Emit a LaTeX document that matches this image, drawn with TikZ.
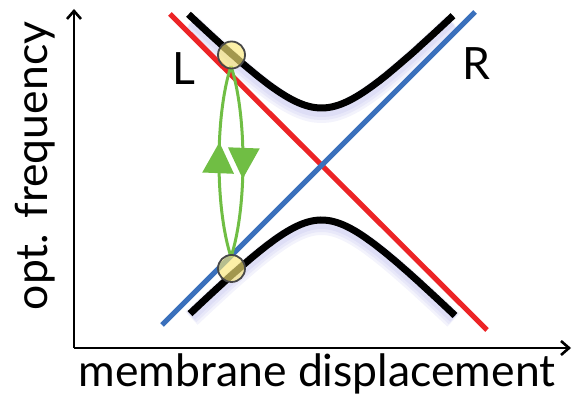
\documentclass[tikz,border=0pt]{standalone}
\usepackage{fontspec}
\setmainfont{Lato}
\usepackage{xcolor}
\usetikzlibrary{arrows.meta, decorations.markings}

\definecolor{leftRed}{RGB}{236,36,38}
\definecolor{rightBlue}{RGB}{58,112,188}
\definecolor{hopGreen}{RGB}{112,190,68}
\definecolor{dotYellow}{RGB}{250,232,120}
\definecolor{dotRim}{RGB}{72,72,72}
\definecolor{glowBlue}{RGB}{120,120,220}

\begin{document}
\begin{tikzpicture}[x=1pt, y=1pt,
        % Define the styles used below
        axis/.style={line width=2.6pt, -{Straight Barb[length=8pt, width=14pt]}},
        axtext/.style={font=\fontsize{44.5}{44.5}\selectfont, inner sep=0pt},
        mode/.style={line width=5.2pt},
        branch/.style={line width=7pt, black},
        glow/.style={color=glowBlue, opacity=0.09},
        dot/.style={circle, draw=dotRim, line width=1.8pt, fill=dotYellow, fill opacity=0.65,
            minimum size=27pt, inner sep=0pt},
        hop/.style={line width=3pt, hopGreen, postaction={decorate},
            decoration={markings, mark=at position #1 with
                {\arrow{Triangle[length=31pt, width=31pt]}}}}]

        \useasboundingbox (0,0) rectangle (573,398);

        % 1. Coordinates: axes and the two crossing modes
        \coordinate (O) at (74,50);
        \coordinate (Ytop) at (74,389);
        \coordinate (Xend) at (571,50);
        \coordinate (Ltop) at (170,384);   % left mode (red)
        \coordinate (Lbot) at (487,68);
        \coordinate (Rbot) at (162,73);    % right mode (blue)
        \coordinate (Rtop) at (475,386);

        % 2. Soft shadow below the two black branches
        \foreach \w/\s in {18/6, 14/5, 10/4} {
            \draw[glow, line width=\w pt, shift={(0,-\s)}]
                plot[domain=-130:130, samples=60, smooth]
                ({321.5+\x}, {242.5+veclen(47.5,\x)});
            \draw[glow, line width=\w pt, shift={(0,-\s)}]
                plot[domain=-130:132, samples=60, smooth]
                ({321.5+\x}, {223.5-veclen(45.5,\x)});
        }

        % 3. The two bare modes
        \draw[mode, leftRed] (Ltop) -- (Lbot);
        \draw[mode, rightBlue] (Rbot) -- (Rtop);

        % 4. The two hybridized branches (avoided crossing)
        \draw[branch] plot[domain=-133:131.5, samples=80, smooth]
            ({321.5+\x}, {242.5+veclen(47.5,\x)});
        \draw[branch] plot[domain=-131.5:133.5, samples=80, smooth]
            ({321.5+\x}, {223.5-veclen(45.5,\x)});

        % 5. Transfer loop between the two points
        \coordinate (hopBot) at (231,141);
        \coordinate (hopTop) at (231,332);
        \draw[hop=0.6] (hopBot) .. controls (215,190) and (215,283) .. (hopTop);
        \draw[hop=0.59] (hopTop) .. controls (247,283) and (247,190) .. (hopBot);

        % 6. Mark the two points
        \node[dot] (upper) at (231.5,343) {};
        \node[dot] (lower) at (231.5,129.5) {};

        % 7. Labels of the modes
        \node[axtext, anchor=base] (Llab) at (184,313) {L};
        \node[axtext, anchor=base] (Rlab) at (476,318) {R};

        % 8. Axes and their labels
        \draw[axis] (O) -- (Ytop);
        \draw[axis] (O) -- (Xend);
        \node[axtext, anchor=base] (xlab) at (317,11) {membrane displacement};
        \node[axtext, anchor=base, rotate=90] (ylab) at (47,232) {opt. frequency};

\end{tikzpicture}
\end{document}
